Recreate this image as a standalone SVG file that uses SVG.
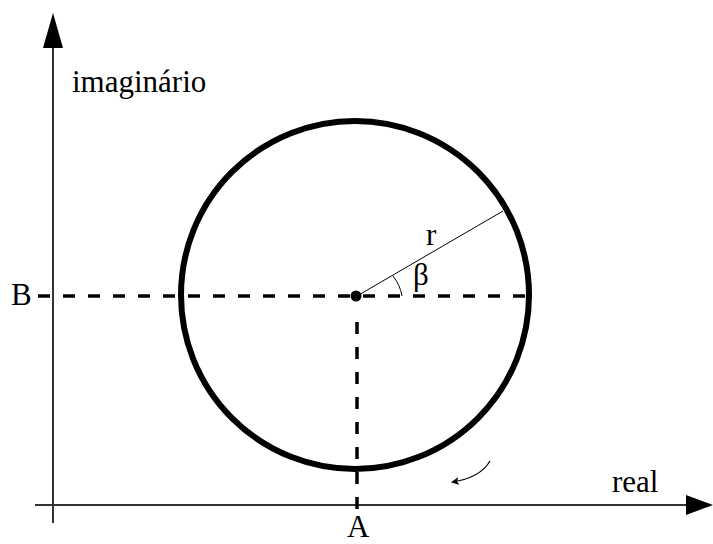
<svg xmlns="http://www.w3.org/2000/svg" width="713" height="544" viewBox="0 0 713 544">
<style>
.t{font-family:"Liberation Serif","Times New Roman",serif;font-size:31px;fill:#000}
.axis{stroke:#333;stroke-width:2;fill:none}
.dash{stroke:#000;stroke-width:3.5;stroke-dasharray:12 13;fill:none}
.thin{stroke:#000;stroke-width:1;fill:none}
</style>
<defs>
<marker id="sm" markerWidth="8" markerHeight="8" refX="7" refY="4" orient="auto" markerUnits="userSpaceOnUse">
<path d="M0,0 L8,4 L0,8 L2,4 Z" fill="#000"/>
</marker>
</defs>
<rect width="713" height="544" fill="#fff"/>
<g id="axes">
<line class="axis" x1="53" y1="40" x2="53" y2="523"/>
<polygon points="53,13 43,48 63,48" fill="#000"/>
<line class="axis" x1="35" y1="505" x2="690" y2="505"/>
<polygon points="713,505 686,495 686,515" fill="#000"/>
</g>
<g id="circle">
<circle cx="355" cy="295" r="174" fill="none" stroke="#000" stroke-width="6"/>
</g>
<g id="connectors">
<line class="dash" x1="38" y1="296" x2="530" y2="296"/>
<line class="dash" x1="357" y1="322" x2="357" y2="515"/>
<line class="thin" x1="357" y1="296" x2="503" y2="211"/>
<path class="thin" d="M393,276 A44,44 0 0 1 402,296"/>
<path d="M490,461 Q480,478 452,482" fill="none" stroke="#000" stroke-width="1.2" marker-end="url(#sm)"/>
</g>
<g id="center">
<circle cx="356" cy="296" r="5.5" fill="#000"/>
</g>
<g id="labels">
<text class="t" x="72" y="92">imaginário</text>
<text class="t" x="612" y="492" font-size="33">real</text>
<text class="t" x="347" y="537" font-size="28">A</text>
<text class="t" x="11" y="305" font-size="29">B</text>
<text class="t" x="426" y="245">r</text>
<text class="t" x="413" y="285" font-size="25">β</text>
</g>
</svg>
